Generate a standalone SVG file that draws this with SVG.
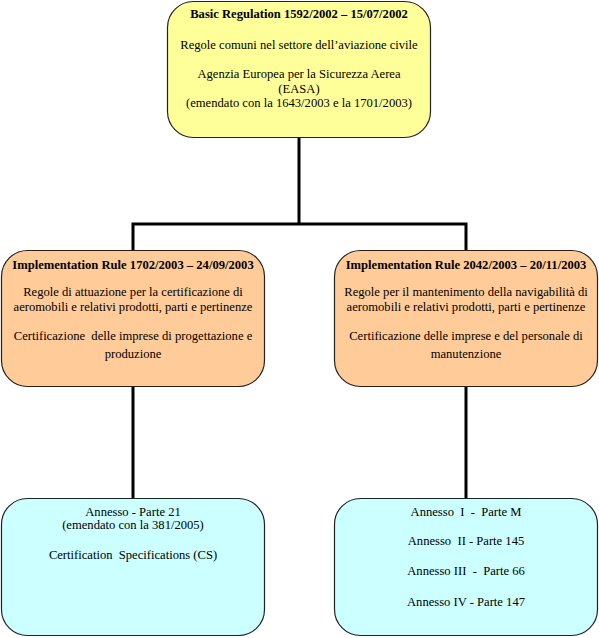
<svg xmlns="http://www.w3.org/2000/svg" width="599" height="638" viewBox="0 0 599 638">
<style>
.box{stroke:#222;stroke-width:1.2}
.y{fill:#FFFF99}.o{fill:#FFCC99}.c{fill:#CCFFFF}
text{font-family:"Liberation Serif","Times New Roman",serif;font-size:12.6px;fill:#000;text-anchor:middle}
.b{font-weight:bold}
.conn{stroke:#000;stroke-width:3;fill:none}
</style>
<rect width="599" height="638" fill="#fff"/>
<g id="connectors">
<path class="conn" d="M299,137 V224 M133,224 H466 M133,222.5 V251 M466,222.5 V251 M133,386 V499 M466,386 V499"/>
</g>
<g id="basic">
<rect class="box y" x="167.5" y="1.5" width="263" height="136" rx="26"/>
<text class="b" x="299" y="18">Basic Regulation 1592/2002 – 15/07/2002</text>
<text x="299" y="49">Regole comuni nel settore dell’aviazione civile</text>
<text x="299" y="78">Agenzia Europea per la Sicurezza Aerea</text>
<text x="299" y="93">(EASA)</text>
<text x="299" y="107">(emendato con la 1643/2003 e la 1701/2003)</text>
</g>
<g id="ir1702">
<rect class="box o" x="1.5" y="250.5" width="263" height="136" rx="26"/>
<text class="b" x="133" y="269">Implementation Rule 1702/2003 – 24/09/2003</text>
<text x="133" y="296">Regole di attuazione per la certificazione di</text>
<text x="133" y="311">aeromobili e relativi prodotti, parti e pertinenze</text>
<text x="133" y="340" xml:space="preserve">Certificazione  delle imprese di progettazione e</text>
<text x="133" y="358">produzione</text>
</g>
<g id="ir2042">
<rect class="box o" x="334.5" y="250.5" width="263" height="136" rx="26"/>
<text class="b" x="466" y="269">Implementation Rule 2042/2003 – 20/11/2003</text>
<text x="466" y="296">Regole per il mantenimento della navigabilità di</text>
<text x="466" y="311">aeromobili e relativi prodotti, parti e pertinenze</text>
<text x="466" y="340">Certificazione delle imprese e del personale di</text>
<text x="466" y="358">manutenzione</text>
</g>
<g id="parte21">
<rect class="box c" x="1.5" y="498.5" width="263" height="137" rx="26"/>
<text x="133" y="516">Annesso - Parte 21</text>
<text x="133" y="529">(emendato con la 381/2005)</text>
<text x="133" y="559" xml:space="preserve">Certification  Specifications (CS)</text>
</g>
<g id="annessi">
<rect class="box c" x="334.5" y="498.5" width="263" height="137" rx="26"/>
<text x="466" y="516" xml:space="preserve">Annesso  I  -  Parte M</text>
<text x="466" y="545" xml:space="preserve">Annesso  II - Parte 145</text>
<text x="466" y="575" xml:space="preserve">Annesso III  -  Parte 66</text>
<text x="466" y="606">Annesso IV - Parte 147</text>
</g>
</svg>
